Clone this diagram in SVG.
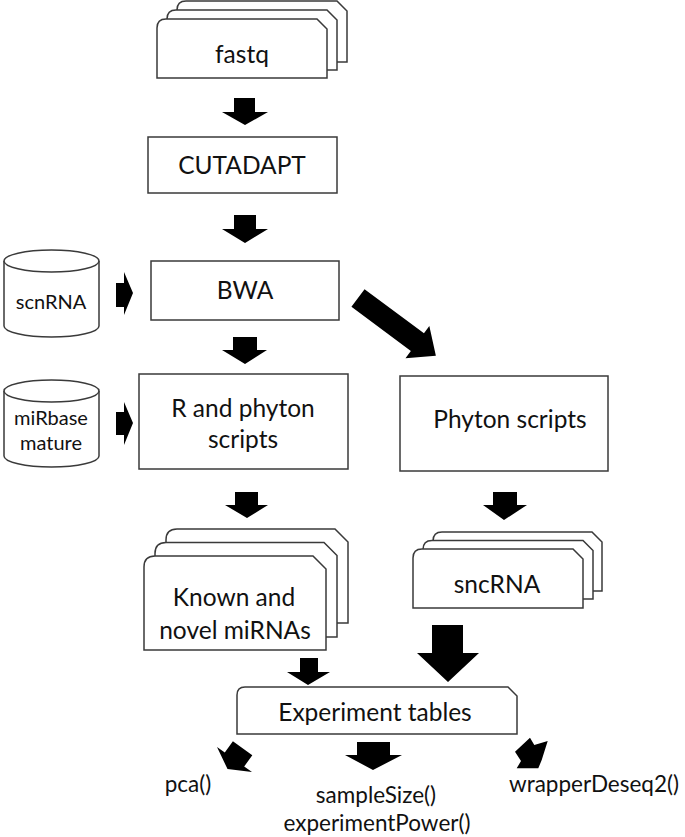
<svg xmlns="http://www.w3.org/2000/svg" width="685" height="837" viewBox="0 0 685 837">
<style>
.box{fill:#fff;stroke:#3a3a3a;stroke-width:1.5}
.t{font-family:Lato,"Open Sans",sans-serif;font-size:24.5px;fill:#111;text-anchor:middle}
.s{font-family:Lato,"Open Sans",sans-serif;font-size:20px;fill:#111;text-anchor:middle}
.b{font-family:Lato,"Open Sans",sans-serif;font-size:22.5px;fill:#111;text-anchor:middle}
.ar{fill:#000}
</style>
<rect width="685" height="837" fill="#fff"/>
<g id="fastq">
<path class="box" d="M177,62 L177,10 Q177,1 186,1 L337,1 L347,11 L347,62 Z"/>
<path class="box" d="M167,70 L167,19 Q167,10 176,10 L327,10 L337,20 L337,70 Z"/>
<path class="box" d="M157,78 L157,28 Q157,19 166,19 L317,19 L327,29 L327,78 Z"/>
<text class="t" x="242" y="63">fastq</text>
</g>
<g id="cutadapt">
<rect class="box" x="148" y="137" width="189" height="56"/>
<text class="t" x="242" y="174">CUTADAPT</text>
</g>
<g id="bwa">
<rect class="box" x="151" y="261" width="188" height="59"/>
<text class="t" x="245" y="299">BWA</text>
</g>
<g id="scnrna">
<path class="box" d="M4,261 A47.5,11 0 0 1 99,261 L99,326 A47.5,11 0 0 1 4,326 Z"/>
<path class="box" fill="none" d="M4,261 A47.5,11 0 0 0 99,261"/>
<text class="s" x="51" y="309">scnRNA</text>
</g>
<g id="mirbase">
<path class="box" d="M4,391 A47.5,11 0 0 1 99,391 L99,456 A47.5,11 0 0 1 4,456 Z"/>
<path class="box" fill="none" d="M4,391 A47.5,11 0 0 0 99,391"/>
<text class="s" x="51" y="425">miRbase</text>
<text class="s" x="51" y="450">mature</text>
</g>
<g id="rscripts">
<rect class="box" x="139" y="374" width="209" height="95"/>
<text class="t" x="243" y="417">R and phyton</text>
<text class="t" x="243" y="448">scripts</text>
</g>
<g id="phyton">
<rect class="box" x="400" y="376" width="208" height="95"/>
<text class="t" x="510" y="428">Phyton scripts</text>
</g>
<g id="known">
<path class="box" d="M166,623 L166,540 Q166,529 177,529 L335,529 L348,542 L348,623 Z"/>
<path class="box" d="M155,637 L155,553.5 Q155,542.5 166,542.5 L324,542.5 L337,555.5 L337,637 Z"/>
<path class="box" d="M144,650 L144,567 Q144,556 155,556 L313,556 L326,569 L326,650 Z"/>
<text class="t" x="234" y="606">Known and</text>
<text class="t" x="235" y="639">novel miRNAs</text>
</g>
<g id="sncrna">
<path class="box" d="M433,591 L433,541 Q433,532 442,532 L592,532 L602,542 L602,591 Z"/>
<path class="box" d="M423,599 L423,549.5 Q423,540.5 432,540.5 L583,540.5 L593,550.5 L593,599 Z"/>
<path class="box" d="M413,608 L413,558 Q413,549 422,549 L573,549 L583,559 L583,608 Z"/>
<text class="t" x="497" y="593">sncRNA</text>
</g>
<g id="experiment">
<path class="box" d="M237,734 L237,695 Q237,687 245,687 L508,687 L517,696 L517,734 Z"/>
<text class="t" x="375" y="721">Experiment tables</text>
</g>
<g id="outputs">
<text class="b" x="188" y="792">pca()</text>
<text class="b" x="376" y="803">sampleSize()</text>
<text class="b" x="377" y="831">experimentPower()</text>
<text class="b" x="594" y="792">wrapperDeseq2()</text>
</g>
<g id="connectors">
<polygon class="ar" points="234,98 255,98 255,112 268,112 245,125 222,112 234,112"/>
<polygon class="ar" points="234,215 256,215 256,229 268,229 245,243 222,229 234,229"/>
<polygon class="ar" points="233,337 257,337 257,350 267,350 245,364 222,350 233,350"/>
<polygon class="ar" points="235,492 258,492 258,505 268,505 247,518 225,505 235,505"/>
<polygon class="ar" points="493,492 517,492 517,505 527,505 504,520 483,505 493,505"/>
<polygon class="ar" points="300,658 318,658 318,672 330,672 308,685 287,672 300,672"/>
<polygon class="ar" points="432,625 463,625 463,653 479,653 448,682 417,653 432,653"/>
<polygon class="ar" points="357,742 390,742 390,755 402,755 373,770 345,755 357,755"/>
<polygon class="ar" points="116,283 124,283 124,272 133,293 124,315 124,307 116,307"/>
<polygon class="ar" points="116,412 124,412 124,402 133,423 124,445 124,435 116,435"/>
<polygon class="ar" transform="translate(358,298) rotate(36.6)" points="0,-11 74,-11 74,-20 97,0 74,20 74,11 0,11"/>
<polygon class="ar" points="232.9,741.2 252.3,755.2 244.2,766.5 252,772 227.5,769 217,747 224.8,752.5"/>
<polygon class="ar" points="515,751.7 530,737.7 534.3,745 547.7,741 541.7,760 538.3,768.3 516.7,768.3 521,761"/>
</g>
</svg>
